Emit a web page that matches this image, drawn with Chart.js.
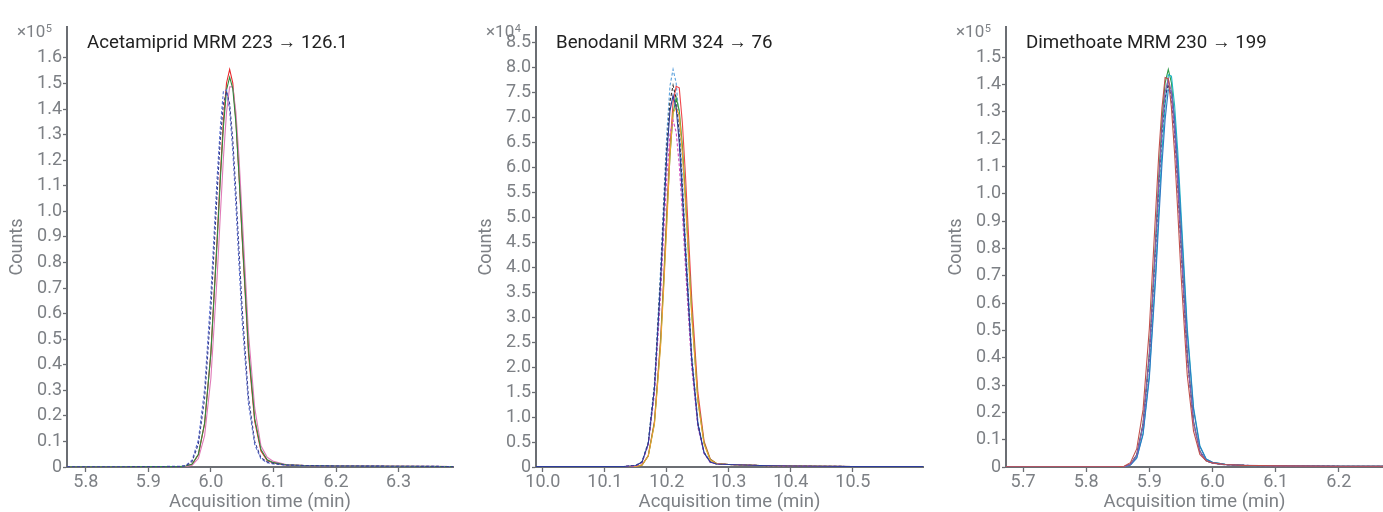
<!DOCTYPE html>
<html>
<head>
<meta charset="utf-8">
<script src="https://cdn.jsdelivr.net/npm/chart.js@4.4.1/dist/chart.umd.min.js"></script>
<style>
  html, body { margin: 0; padding: 0; background: #ffffff; }
  body { width: 1383px; height: 512px; position: relative; overflow: hidden; }
  canvas { position: absolute; top: 0; }
</style>
</head>
<body>
<canvas id="c1" width="460" height="512" style="left:0px"></canvas>
<canvas id="c2" width="461" height="512" style="left:469px"></canvas>
<canvas id="c3" width="444" height="512" style="left:939px"></canvas>
<script>
// ---------- Panel 1: Acetamiprid (x10^5 counts) ----------
const acetTitle = 'Acetamiprid MRM 223 \u2192 126.1';
const acetExp = '5';
const acetXTicks = [5.8, 5.9, 6.0, 6.1, 6.2, 6.3];
const acetYTicks = [0, 0.1, 0.2, 0.3, 0.4, 0.5, 0.6, 0.7, 0.8, 0.9, 1.0, 1.1, 1.2, 1.3, 1.4, 1.5, 1.6];
const acetTime = [5.77, 5.85, 5.92, 5.95, 5.96, 5.97, 5.98, 5.99, 6.00, 6.01, 6.015, 6.02, 6.025, 6.03, 6.035, 6.04, 6.045, 6.05, 6.06, 6.07, 6.08, 6.09, 6.10, 6.12, 6.15, 6.20, 6.30, 6.387];
const acetRed    = [0.001,0.001,0.002,0.002,0.003,0.011,0.048,0.170,0.447,0.894,1.138,1.354,1.502,1.555,1.502,1.354,1.138,0.894,0.447,0.179,0.062,0.025,0.016,0.008,0.006,0.004,0.003,0.002];
const acetGreen  = [0.001,0.001,0.002,0.002,0.004,0.012,0.050,0.172,0.445,0.880,1.120,1.330,1.475,1.525,1.480,1.345,1.140,0.905,0.465,0.190,0.068,0.028,0.017,0.009,0.006,0.004,0.003,0.002];
const acetBlue   = [0.001,0.001,0.002,0.003,0.006,0.027,0.106,0.306,0.677,1.134,1.325,1.470,1.475,1.395,1.236,1.023,0.790,0.571,0.248,0.088,0.032,0.017,0.012,0.007,0.005,0.004,0.003,0.002];
const acetNavy   = [0.001,0.001,0.002,0.002,0.004,0.022,0.090,0.269,0.619,1.076,1.280,1.420,1.470,1.420,1.280,1.076,0.845,0.619,0.275,0.100,0.036,0.020,0.014,0.008,0.006,0.004,0.003,0.002];
const acetPink   = [0.001,0.001,0.002,0.002,0.002,0.007,0.033,0.123,0.347,0.744,0.981,1.208,1.388,1.487,1.487,1.388,1.208,0.981,0.527,0.232,0.083,0.038,0.022,0.010,0.006,0.004,0.003,0.002];

// ---------- Panel 2: Benodanil (x10^4 counts) ----------
const benoTitle = 'Benodanil MRM 324 \u2192 76';
const benoExp = '4';
const benoXTicks = [10.0, 10.1, 10.2, 10.3, 10.4, 10.5];
const benoYTicks = [0, 0.5, 1.0, 1.5, 2.0, 2.5, 3.0, 3.5, 4.0, 4.5, 5.0, 5.5, 6.0, 6.5, 7.0, 7.5, 8.0, 8.5];
const benoTime = [9.989, 10.05, 10.10, 10.13, 10.15, 10.16, 10.17, 10.18, 10.19, 10.195, 10.20, 10.205, 10.21, 10.215, 10.22, 10.225, 10.23, 10.24, 10.25, 10.26, 10.27, 10.28, 10.30, 10.35, 10.40, 10.50, 10.613];
const benoLightBlue = [0.01,0.01,0.01,0.01,0.03,0.11,0.50,1.68,3.99,5.40,6.70,7.64,7.97,7.70,6.94,5.83,4.58,2.30,0.92,0.30,0.11,0.06,0.05,0.03,0.02,0.01,0.01];
const benoBlack     = [0.01,0.01,0.01,0.01,0.03,0.10,0.48,1.61,3.83,5.19,6.43,7.33,7.65,7.39,6.66,5.60,4.40,2.20,0.88,0.29,0.10,0.06,0.05,0.03,0.02,0.01,0.01];
const benoRed       = [0.01,0.01,0.01,0.01,0.01,0.04,0.23,0.92,2.59,3.82,5.17,6.42,7.31,7.63,7.60,6.90,5.85,3.40,1.50,0.52,0.16,0.07,0.05,0.03,0.02,0.01,0.01];
const benoGreen     = [0.01,0.01,0.01,0.01,0.01,0.04,0.22,0.89,2.51,3.71,5.02,6.22,7.09,7.40,7.15,6.45,5.42,3.12,1.35,0.48,0.15,0.07,0.05,0.03,0.02,0.01,0.01];
const benoOrange    = [0.01,0.01,0.01,0.01,0.01,0.04,0.22,0.86,2.44,3.61,4.88,6.25,7.10,7.20,7.05,6.30,5.30,3.05,1.32,0.46,0.14,0.07,0.05,0.03,0.02,0.01,0.01];
const benoMagenta   = [0.01,0.01,0.01,0.01,0.02,0.09,0.44,1.47,3.48,4.71,5.84,6.66,6.95,6.71,6.05,5.09,4.00,2.00,0.80,0.27,0.09,0.06,0.05,0.03,0.02,0.01,0.01];
const benoDarkBlue  = [0.01,0.01,0.01,0.01,0.03,0.10,0.47,1.57,3.73,5.05,6.27,7.14,7.45,7.20,6.49,5.45,4.28,2.15,0.85,0.28,0.10,0.06,0.05,0.03,0.02,0.01,0.01];

// ---------- Panel 3: Dimethoate (x10^5 counts) ----------
const dimeTitle = 'Dimethoate MRM 230 \u2192 199';
const dimeExp = '5';
const dimeXTicks = [5.7, 5.8, 5.9, 6.0, 6.1, 6.2];
const dimeYTicks = [0, 0.1, 0.2, 0.3, 0.4, 0.5, 0.6, 0.7, 0.8, 0.9, 1.0, 1.1, 1.2, 1.3, 1.4, 1.5];
const dimeTime = [5.673, 5.75, 5.82, 5.85, 5.86, 5.87, 5.88, 5.89, 5.90, 5.91, 5.915, 5.92, 5.925, 5.93, 5.935, 5.94, 5.945, 5.95, 5.96, 5.97, 5.98, 5.99, 6.00, 6.02, 6.05, 6.10, 6.20, 6.27];
const dimeGreen  = [0.001,0.001,0.001,0.001,0.002,0.010,0.045,0.159,0.419,0.837,1.065,1.267,1.406,1.455,1.406,1.267,1.065,0.837,0.419,0.167,0.058,0.023,0.015,0.009,0.006,0.004,0.003,0.003];
const dimeCyan   = [0.001,0.001,0.001,0.001,0.001,0.007,0.034,0.123,0.340,0.717,0.941,1.154,1.323,1.435,1.430,1.323,1.154,0.941,0.511,0.218,0.078,0.029,0.017,0.010,0.006,0.004,0.003,0.003];
const dimeRed    = [0.001,0.001,0.001,0.001,0.003,0.016,0.066,0.209,0.507,0.935,1.147,1.314,1.425,1.420,1.314,1.147,0.935,0.712,0.337,0.131,0.046,0.023,0.015,0.009,0.006,0.004,0.003,0.003];
const dimeNavy   = [0.001,0.001,0.001,0.001,0.001,0.010,0.043,0.153,0.403,0.805,1.025,1.219,1.352,1.400,1.352,1.219,1.025,0.805,0.403,0.161,0.056,0.022,0.014,0.008,0.006,0.004,0.003,0.003];
const dimeBlue   = [0.001,0.001,0.001,0.001,0.001,0.007,0.032,0.118,0.326,0.690,0.905,1.110,1.272,1.380,1.375,1.272,1.110,0.905,0.491,0.210,0.075,0.028,0.017,0.010,0.006,0.004,0.003,0.003];
const dimePurple = [0.001,0.001,0.001,0.001,0.001,0.010,0.044,0.155,0.409,0.817,1.039,1.237,1.372,1.420,1.372,1.237,1.039,0.817,0.409,0.163,0.057,0.023,0.014,0.008,0.006,0.004,0.003,0.003];

// ---------- styling ----------
const AXIS = '#6b6e73';
const LABEL = '#7d8085';
const FONT = 'Roboto';

const panelText = {
  id: 'panelText',
  afterDraw(chart, args, opts) {
    const { ctx, chartArea } = chart;
    ctx.save();
    ctx.textBaseline = 'alphabetic';
    ctx.textAlign = 'left';
    ctx.fillStyle = '#222222';
    ctx.font = '18.7px ' + FONT;
    ctx.fillText(opts.title, chartArea.left + 20, 48);
    ctx.fillStyle = LABEL;
    ctx.font = '17px ' + FONT;
    const x0 = chartArea.left - 50;
    ctx.fillText('\u00d710', x0, 37);
    const w = ctx.measureText('\u00d710').width;
    ctx.font = '11px ' + FONT;
    ctx.fillText(opts.exp, x0 + w + 0.5, 32);
    ctx.restore();
  }
};

function fmt(v) { return v === 0 ? '0' : v.toFixed(1); }

function makeChart(id, times, series, xMin, xMax, yMax, xTicks, yTicks, title, exp, padRight) {
  const datasets = series.map(s => ({
    data: times.map((t, i) => ({ x: t, y: s.values[i] })),
    borderColor: s.color,
    borderWidth: 1.1,
    borderDash: s.dash || [],
    pointRadius: 0,
    fill: false,
    tension: 0
  }));
  return new Chart(document.getElementById(id), {
    type: 'line',
    data: { datasets },
    plugins: [panelText],
    options: {
      responsive: false,
      animation: false,
      devicePixelRatio: 1,
      layout: { padding: { top: 27, right: padRight, left: 0, bottom: 0 } },
      plugins: {
        legend: { display: false },
        tooltip: { enabled: false },
        panelText: { title, exp }
      },
      scales: {
        x: {
          type: 'linear', min: xMin, max: xMax,
          afterBuildTicks: s => { s.ticks = xTicks.map(v => ({ value: v })); },
          afterFit: s => { s.height = 45; },
          grid: { drawOnChartArea: false, drawTicks: true, tickLength: 5, color: AXIS, tickWidth: 1.3 },
          border: { color: AXIS, width: 2 },
          ticks: { color: LABEL, font: { family: FONT, size: 18 }, padding: 0, maxRotation: 0, autoSkip: false, callback: v => fmt(v) },
          title: { display: true, text: 'Acquisition time (min)', color: LABEL, font: { family: FONT, size: 18.5, lineHeight: 1 }, padding: 0 }
        },
        y: {
          type: 'linear', min: 0, max: yMax,
          afterBuildTicks: s => { s.ticks = yTicks.map(v => ({ value: v })); },
          afterFit: s => { s.width = 67; },
          grid: { drawOnChartArea: false, drawTicks: true, tickLength: 4, color: AXIS, tickWidth: 1.3 },
          border: { color: AXIS, width: 2 },
          ticks: { color: LABEL, font: { family: FONT, size: 18 }, padding: 1, autoSkip: false, callback: v => fmt(v) },
          title: { display: true, text: 'Counts', color: LABEL, font: { family: FONT, size: 18, lineHeight: 1.2 }, padding: { top: 7, bottom: 0 } }
        }
      }
    }
  });
}

makeChart('c1', acetTime, [
  { values: acetNavy, color: '#3a3f8f', dash: [3, 2] },
  { values: acetBlue, color: '#5a6fd0', dash: [3, 2] },
  { values: acetGreen, color: '#2e8b3e' },
  { values: acetPink, color: '#e07ab8' },
  { values: acetRed, color: '#e8252a' }
], 5.77, 6.387, 1.721, acetXTicks, acetYTicks, acetTitle, acetExp, 7);

makeChart('c2', benoTime, [
  { values: benoDarkBlue, color: '#2d3c9a' },
  { values: benoMagenta, color: '#d24bbd', dash: [3, 2] },
  { values: benoOrange, color: '#f0a030' },
  { values: benoGreen, color: '#3aa23a' },
  { values: benoBlack, color: '#333333', dash: [3, 2] },
  { values: benoRed, color: '#f0474b' },
  { values: benoLightBlue, color: '#5aa0dc', dash: [3, 2] }
], 9.989, 10.613, 8.82, benoXTicks, benoYTicks, benoTitle, benoExp, 7);

makeChart('c3', dimeTime, [
  { values: dimeRed, color: '#c0504d' },
  { values: dimePurple, color: '#8e5cb0' },
  { values: dimeBlue, color: '#2f78c4' },
  { values: dimeNavy, color: '#26306e', dash: [3, 2] },
  { values: dimeCyan, color: '#1fb5c6' },
  { values: dimeGreen, color: '#2e9a48' }
], 5.673, 6.27, 1.61, dimeXTicks, dimeYTicks, dimeTitle, dimeExp, 0);
</script>
</body>
</html>
